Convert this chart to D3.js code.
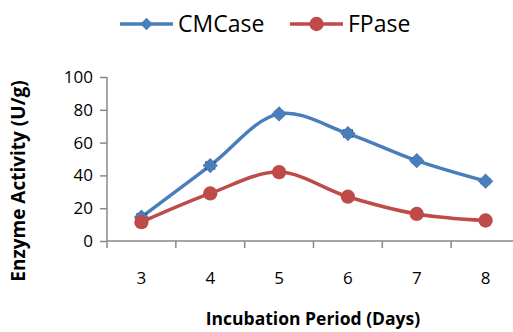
<!DOCTYPE html>
<html><head><meta charset="utf-8">
<script src="https://cdn.jsdelivr.net/npm/d3@7"></script>
<style>body{margin:0;background:#fff}svg{display:block}text{font-family:"Open Sans","Liberation Sans",sans-serif}</style>
</head><body><svg id="c" width="513" height="332"></svg>
<script>
const days = ["3","4","5","6","7","8"];
const cmcase = [14.5, 46, 77.5, 65.5, 49, 36.5];
const fpase = [11.5, 29, 42, 27, 16.5, 12.5];
const cmcaseErr = [2, 2, 1.5, 2, 1.5, 1.5];
const fpaseErr = [2, 1.5, 1.5, 2, 1.5, 1.5];
const yTicks = [0, 20, 40, 60, 80, 100];
const seriesNames = ["CMCase", "FPase"];
const colors = ["#4a7ebb", "#be4b48"];

const svg = d3.select("#c");
const x = d3.scaleBand().domain(days).range([107, 520]);
const y = d3.scaleLinear().domain([0, 100]).range([241, 77]);

// y axis
const ya = svg.append("g").attr("transform", "translate(107,0)")
  .call(d3.axisLeft(y).tickValues(yTicks).tickSize(7).tickPadding(7));
ya.select(".domain").attr("stroke", "#888").attr("stroke-width", 1.5).attr("d", `M0,${y(100)}V${y(0)}`);
ya.selectAll(".tick line").attr("stroke", "#888").attr("stroke-width", 1.5);
ya.selectAll(".tick text").attr("font-size", 17).attr("fill", "#000");

// x axis
const xa = svg.append("g").attr("transform", `translate(0,${y(0)})`)
  .call(d3.axisBottom(x).tickSize(0).tickPadding(0));
xa.select(".domain").attr("stroke", "#888").attr("stroke-width", 1.5).attr("d", `M107,0H520`);
xa.selectAll(".tick text").attr("font-size", 17).attr("fill", "#000").attr("dy", null).attr("y", 43);
const bounds = days.map((d) => x(d)).concat([520]);
svg.append("g").selectAll("line").data(bounds).join("line")
  .attr("x1", d => d).attr("x2", d => d).attr("y1", y(0)).attr("y2", y(0) + 7)
  .attr("stroke", "#888").attr("stroke-width", 1.5);

const cx = d => x(d) + x.bandwidth() / 2;
const line = d3.line().curve(d3.curveCatmullRom.alpha(0.5));

const data = [cmcase, fpase];
const errs = [cmcaseErr, fpaseErr];
data.forEach((vals, i) => {
  const pts = vals.map((v, j) => [cx(days[j]), y(v)]);
  svg.append("path").attr("d", line(pts)).attr("fill", "none")
    .attr("stroke", colors[i]).attr("stroke-width", 3.5);
  const g = svg.append("g");
  vals.forEach((v, j) => {
    const xx = cx(days[j]), e = errs[i][j];
    g.append("path").attr("d", `M${xx},${y(v + e)}V${y(v - e)}M${xx - 5},${y(v + e)}H${xx + 5}M${xx - 5},${y(v - e)}H${xx + 5}`)
      .attr("stroke", "#000").attr("stroke-width", 1.5).attr("fill", "none");
  });
  const sym = i === 0 ? d3.symbol(d3.symbolDiamond2, 150) : d3.symbol(d3.symbolCircle, 160);
  svg.append("g").selectAll("path").data(vals).join("path")
    .attr("d", sym).attr("transform", (v, j) => `translate(${cx(days[j])},${y(v)})`)
    .attr("fill", colors[i]);
});

// legend
const legX = [120, 290];
seriesNames.forEach((n, i) => {
  const g = svg.append("g").attr("transform", `translate(${legX[i]},24)`);
  g.append("line").attr("x1", 0).attr("x2", 53).attr("stroke", colors[i]).attr("stroke-width", 3.5);
  g.append("path").attr("transform", "translate(26.5,0)")
    .attr("d", i === 0 ? d3.symbol(d3.symbolDiamond2, 100)() : d3.symbol(d3.symbolCircle, 160)())
    .attr("fill", colors[i]);
  g.append("text").attr("x", 58).attr("y", 0).attr("dy", "0.36em").attr("font-size", 23).text(n);
});

// axis titles
svg.append("text").attr("transform", "translate(25,181) rotate(-90)")
  .attr("text-anchor", "middle").attr("font-size", 19).attr("font-weight", "bold").text("Enzyme Activity (U/g)");
svg.append("text").attr("x", 313).attr("y", 325).attr("text-anchor", "middle")
  .attr("font-size", 17.5).attr("font-weight", "bold").text("Incubation Period (Days)");
</script></body></html>
